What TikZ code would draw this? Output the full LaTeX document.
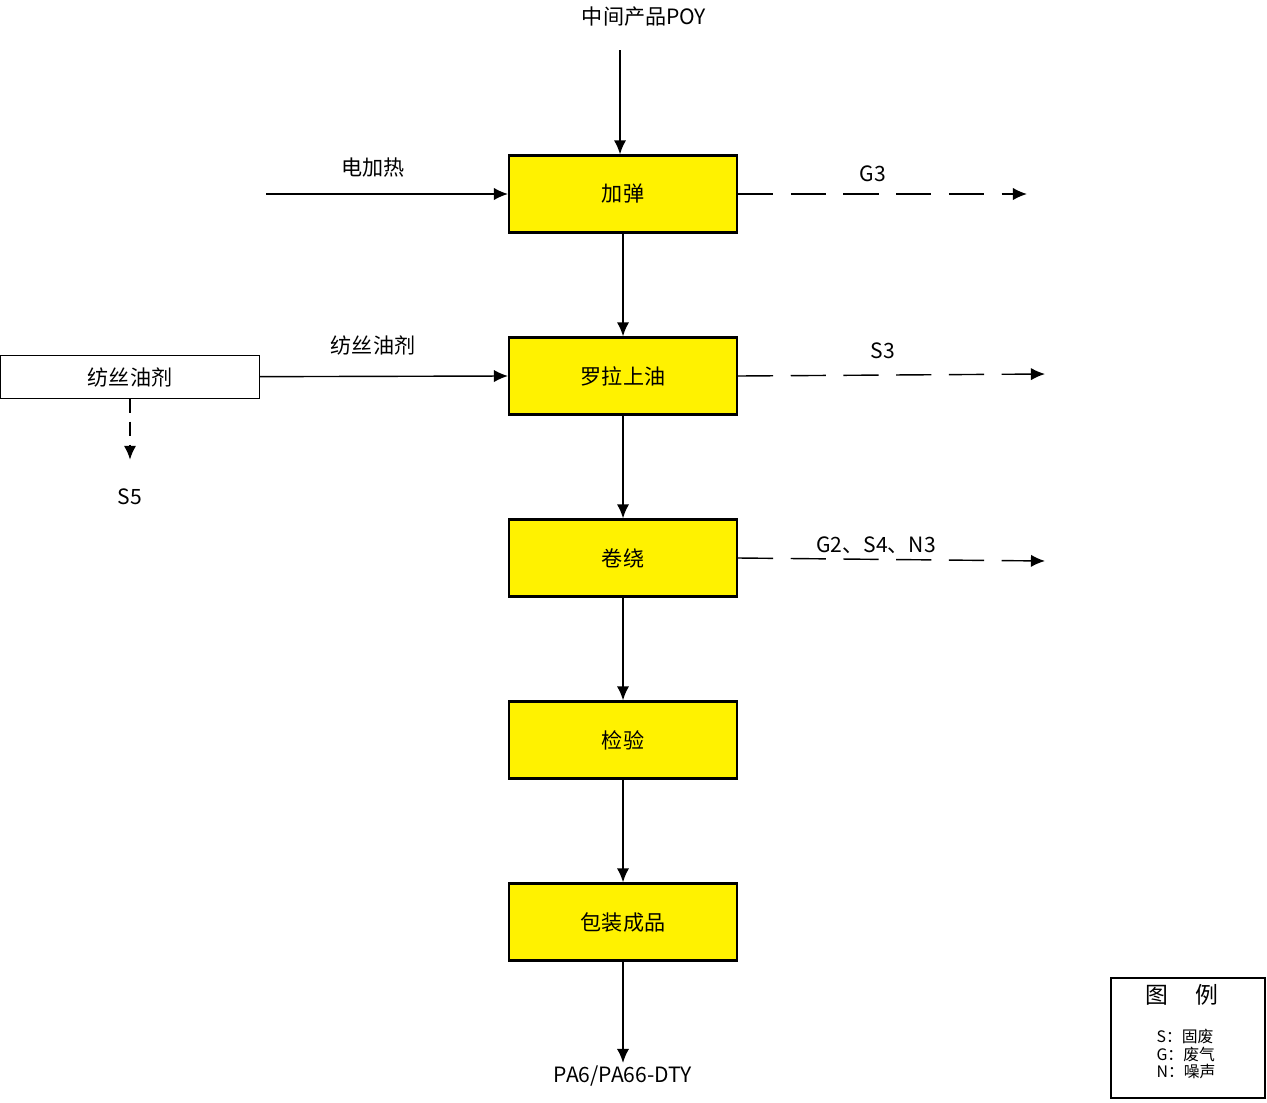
\documentclass[tikz,border=0pt]{standalone}
\usepackage{fontspec}
\setmainfont{Liberation Sans}
\newfontfamily\cjk{Noto Sans CJK SC}
\usetikzlibrary{arrows.meta,positioning}
\tikzset{
  stepbox/.style={draw, line width=1.2pt, fill=yellow, minimum width=4.56cm, minimum height=1.54cm, font=\cjk\fontsize{12}{14}\selectfont},
  flow/.style={line width=1.2pt, -{Latex[length=8pt,width=7pt]}},
  waste/.style={thick, dash pattern=on 20pt off 10pt, -{Latex[length=8pt,width=7pt]}},
  lbl/.style={font=\cjk\fontsize{12}{14}\selectfont}
}
\begin{document}
\begin{tikzpicture}[x=0.02cm,y=-0.02cm]
\useasboundingbox (0,0) rectangle (1267,1102);
% process steps
\node[stepbox] (jt) at (623,194) {加弹};
\node[stepbox] (ly) at (623,376) {罗拉上油};
\node[stepbox] (jr) at (623,558) {卷绕};
\node[stepbox] (jy) at (623,740) {检验};
\node[stepbox] (bz) at (623,922) {包装成品};
\node[lbl] (poy) at (644,17) {中间产品POY};
\node[lbl] (dty) at (623,1076) {PA6/PA66-DTY};
\coordinate (poyend) at (620,50);
\draw[flow] (poyend) -- (jt.north -| poyend);
\draw[flow] (jt) -- (ly);
\draw[flow] (ly) -- (jr);
\draw[flow] (jr) -- (jy);
\draw[flow] (jy) -- (bz);
\draw[flow] (bz) -- (623,1063) coordinate (dtyend);
% inputs
\coordinate (heat) at (266,194);
\node[lbl] at (373,168) {电加热};
\draw[thick,-{Latex[length=8pt,width=7pt]}] (heat) -- (jt.west);
\node[draw, thin, minimum width=5.18cm, minimum height=0.86cm, lbl] (oil) at (130,377) {纺丝油剂};
\node[lbl] at (373,345) {纺丝油剂};
\draw[thick,-{Latex[length=8pt,width=7pt]}] (oil) -- (ly.west);
\node[lbl] (s5) at (130,497) {S5};
\draw[waste, line width=1.5pt, dash pattern=on 8pt off 5pt] (oil.south) -- (130,460);
% wastes
\coordinate (g3) at (1027,194);
\coordinate (s3) at (1045,374);
\coordinate (gsn) at (1045,561);
\draw[waste] (jt.east) -- (g3);
\draw[waste] (ly.east) -- (s3);
\draw[waste] (jr.east) -- (gsn);
\node[lbl] at (873,174) {G3};
\node[lbl] at (883,351) {S3};
\node[lbl] at (876,545) {G2、S4、N3};
% legend
\node[draw, line width=1.5pt, minimum width=3.08cm, minimum height=2.4cm] (leg) at (1188,1038) {};
\node[lbl, font=\cjk\fontsize{13}{15}\selectfont] at (1182,995) {图\quad\ 例};
\node[font=\cjk\fontsize{9}{10}\selectfont, align=left] at (1186,1054) {S：固废\\G：废气\\N：噪声};
\end{tikzpicture}
\end{document}
